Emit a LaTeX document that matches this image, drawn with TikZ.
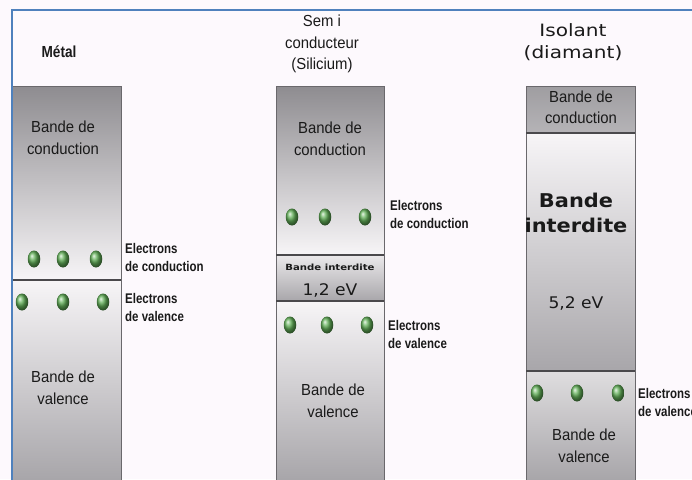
\documentclass[tikz,border=0pt]{standalone}
\usepackage{fontspec}
\setmainfont{Liberation Sans}
\newfontfamily\dvs{DejaVu Sans}
\usetikzlibrary{shapes.geometric}
\definecolor{bg}{HTML}{FDF9FD}
\definecolor{frameblue}{HTML}{4F81BD}
\definecolor{gdark}{HTML}{8E8C90}
\definecolor{gmid}{HTML}{A8A6AA}
\definecolor{glight}{HTML}{F7F5F7}
\definecolor{edge}{HTML}{6A686C}
\definecolor{ink}{HTML}{1A1A1A}
\definecolor{egreen}{HTML}{62B058}
\newcommand\hstack[3]{\scalebox{#1}[1]{\begin{tabular}{@{}#2@{}}#3\end{tabular}}}
\tikzset{
  bandedge/.style={draw=edge, line width=1pt},
  divider/.style={draw=edge!70!black, line width=1.6pt},
  electron/.style={ellipse, minimum width=12.5pt, minimum height=17pt, inner sep=0pt,
    shading=ball, ball color=egreen},
  lbl/.style={inner sep=0pt, text=ink, font=\fontsize{16}{22}\selectfont},
  elbl/.style={inner sep=0pt, anchor=west, text=ink, font=\bfseries\fontsize{14}{18}\selectfont},
  dlbl/.style={inner sep=0pt, text=ink},
}
\begin{document}
\begin{tikzpicture}[x=1pt,y=-1pt]
\useasboundingbox (0,0) rectangle (692,479);
\clip (0,0) rectangle (692,479);
\fill[bg] (0,0) rectangle (692,479);

% ---- Metal bar
\shade[top color=gdark, bottom color=glight] (12,86) rectangle (121,280);
\shade[top color=glight, bottom color=gmid] (12,280) rectangle (121,479);
\draw[bandedge] (12,500) -- (12,86) -- (121,86) -- (121,500);
\draw[divider] (12,280) -- (121,280);

% ---- Semiconductor bar
\shade[top color=gdark, bottom color=glight] (276,86) rectangle (384,255);
\shade[top color=glight!90!gray, bottom color=gmid] (276,255) rectangle (384,301);
\shade[top color=glight, bottom color=gmid] (276,301) rectangle (384,479);
\draw[bandedge] (276,500) -- (276,86) -- (384,86) -- (384,500);
\draw[divider] (276,255) -- (384,255);
\draw[divider] (276,301) -- (384,301);

% ---- Insulator bar
\shade[top color=gdark!85!white, bottom color=gmid!85!white] (526,86) rectangle (635,133);
\shade[top color=glight, bottom color=gmid] (526,133) rectangle (635,371);
\shade[top color=glight!80!gray, bottom color=gmid] (526,371) rectangle (635,479);
\draw[bandedge] (526,500) -- (526,86) -- (635,86) -- (635,500);
\draw[divider] (526,133) -- (635,133);
\draw[divider] (526,371) -- (635,371);

% ---- frame
\draw[frameblue, line width=1.5pt] (12,500) -- (12,10) -- (700,10);

% ---- titles
\node[lbl, font=\bfseries\fontsize{16}{22}\selectfont] (tmetal) at (59,52) {\scalebox{0.85}[1]{Métal}};
\node[lbl, font=\fontsize{16}{21.5}\selectfont] (tsemi) at (322,44) {\hstack{0.93}{c}{Sem i\\conducteur\\(Silicium)}};
\node[dlbl, font=\dvs\fontsize{17}{22}\selectfont] (tiso) at (573,43) {\hstack{1.18}{c}{Isolant\\(diamant)}};

% ---- Metal labels
\node[lbl] (mcb) at (63,139) {\hstack{0.93}{c}{Bande de\\conduction}};
\node[lbl] (mvb) at (63,389) {\hstack{0.93}{c}{Bande de\\valence}};
\node[electron] (m1) at (34,259) {};
\node[electron] (m2) at (63,259) {};
\node[electron] (m3) at (96,259) {};
\node[electron] (m4) at (22,302) {};
\node[electron] (m5) at (63,302) {};
\node[electron] (m6) at (103,302) {};
\node[elbl] (mec) at (125,259) {\hstack{0.82}{l}{Electrons\\de conduction}};
\node[elbl] (mev) at (125,309) {\hstack{0.82}{l}{Electrons\\de valence}};

% ---- Semiconductor labels
\node[lbl] (scb) at (330,140) {\hstack{0.93}{c}{Bande de\\conduction}};
\node[electron] (s1) at (292,217) {};
\node[electron] (s2) at (325,217) {};
\node[electron] (s3) at (365,217) {};
\node[elbl] (sec) at (390,216) {\hstack{0.82}{l}{Electrons\\de conduction}};
\node[dlbl, font=\dvs\bfseries\fontsize{8.5}{11}\selectfont] (sgap) at (330,267) {\scalebox{1.19}[1]{Bande interdite}};
\node[dlbl, font=\dvs\fontsize{16}{19}\selectfont] (sgapv) at (330,290) {\scalebox{1.07}[1]{1,2 eV}};
\node[electron] (s4) at (290,325) {};
\node[electron] (s5) at (327,325) {};
\node[electron] (s6) at (367,325) {};
\node[elbl] (sev) at (388,336) {\hstack{0.82}{l}{Electrons\\de valence}};
\node[lbl] (svb) at (333,402) {\hstack{0.93}{c}{Bande de\\valence}};

% ---- Insulator labels
\node[lbl, font=\fontsize{16}{21}\selectfont] (icb) at (581,109) {\hstack{0.93}{c}{Bande de\\conduction}};
\node[dlbl, font=\dvs\bfseries\fontsize{19}{25}\selectfont] (igap) at (576,215) {\hstack{1.1}{c}{Bande\\interdite}};
\node[dlbl, font=\dvs\fontsize{16}{19}\selectfont] (igapv) at (576,303) {\scalebox{1.07}[1]{5,2 eV}};
\node[electron] (i1) at (537,393) {};
\node[electron] (i2) at (577,393) {};
\node[electron] (i3) at (618,393) {};
\node[elbl] (iev) at (638,404) {\hstack{0.82}{l}{Electrons\\de valence}};
\node[lbl] (ivb) at (584,447) {\hstack{0.93}{c}{Bande de\\valence}};
\end{tikzpicture}
\end{document}
